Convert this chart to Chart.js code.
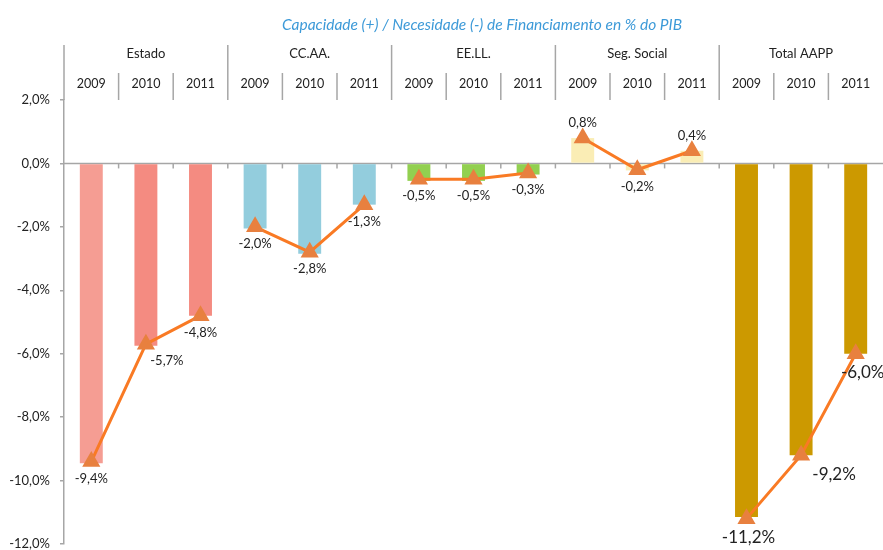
<!DOCTYPE html>
<html>
<head>
<meta charset="utf-8">
<script src="https://cdn.jsdelivr.net/npm/chart.js@4.4.1/dist/chart.umd.min.js"></script>
<style>
  html, body { margin: 0; padding: 0; background: #fff; }
  canvas { display: block; }
</style>
</head>
<body>
<canvas id="grafico" width="883" height="550"></canvas>
<script>
const titulo = 'Capacidade (+) / Necesidade (-) de Financiamento en % do PIB';
const grupos = ['Estado', 'CC.AA.', 'EE.LL.', 'Seg. Social', 'Total AAPP'];
const anos = ['2009', '2010', '2011'];
const ticksY = [2, 0, -2, -4, -6, -8, -10, -12];

const saldoBarras = [-9.45, -5.75, -4.8, -2.05, -2.85, -1.3, -0.55, -0.55, -0.35, 0.8, -0.22, 0.4, -11.15, -9.2, -6.0];
const saldoLinea = [-9.4, -5.7, -4.8, -2.0, -2.8, -1.3, -0.5, -0.5, -0.3, 0.8, -0.2, 0.4, -11.2, -9.2, -6.0];

const coresBarras = [
  '#F59D93', '#F48B81', '#F48B81',
  '#93CDDD', '#93CDDD', '#93CDDD',
  '#92D050', '#92D050', '#92D050',
  '#FAEDB5', '#FAEDB5', '#FAEDB5',
  '#CC9900', '#CC9900', '#CC9900'
];
const desprazEtiqueta = [0, 21, 0, 0, 0, 0, 0, 0, 0, 0, 0, 0, 2, 33, 7];

const etiquetas = [];
grupos.forEach(g => anos.forEach(a => etiquetas.push(g + ' ' + a)));

const fonte = 'Lato, "Open Sans", sans-serif';
const gris = '#a6a6a6';

function pct(v) {
  return v.toFixed(1).replace('.', ',') + '%';
}

const debuxoExtra = {
  id: 'debuxoExtra',
  beforeDatasetsDraw(chart) {
    const ctx = chart.ctx;
    const area = chart.chartArea;
    const y0 = chart.scales.y.getPixelForValue(0);
    ctx.save();
    ctx.strokeStyle = gris;
    ctx.lineWidth = 1.5;
    ctx.beginPath();
    ctx.moveTo(area.left, y0);
    ctx.lineTo(area.right, y0);
    ctx.stroke();
    ctx.restore();
  },
  afterDatasetsDraw(chart) {
    const ctx = chart.ctx;
    const area = chart.chartArea;
    const x = chart.scales.x;
    const y = chart.scales.y;
    const ancho = (area.right - area.left) / etiquetas.length;
    const y0 = y.getPixelForValue(0);
    const yTop = y.getPixelForValue(2);
    ctx.save();

    // titulo
    ctx.fillStyle = '#3D9AD8';
    ctx.font = 'italic 15.5px ' + fonte;
    ctx.textAlign = 'center';
    ctx.textBaseline = 'middle';
    ctx.fillText(titulo, 482, 25);

    // eixo vertical prolongado ata a cabeceira
    ctx.strokeStyle = gris;
    ctx.lineWidth = 1.5;
    ctx.beginPath();
    ctx.moveTo(area.left, 45);
    ctx.lineTo(area.left, yTop);
    ctx.stroke();

    // cabeceira de grupos e anos
    for (let i = 0; i < etiquetas.length; i++) {
      const xi = x.getPixelForValue(i);
      const borde = xi - ancho / 2;
      if (i > 0) {
        ctx.beginPath();
        ctx.moveTo(borde, i % 3 === 0 ? 45 : 73);
        ctx.lineTo(borde, yTop);
        ctx.stroke();
        // marcas sobre a liña do cero
        ctx.beginPath();
        ctx.moveTo(borde, y0);
        ctx.lineTo(borde, y0 + 5);
        ctx.stroke();
      }
      ctx.fillStyle = '#222';
      ctx.font = '12.5px ' + fonte;
      ctx.fillText(anos[i % 3], xi, 84);
      if (i % 3 === 1) {
        ctx.font = '13px ' + fonte;
        ctx.fillText(grupos[(i - 1) / 3], xi, 54);
      }
    }

    // etiquetas de datos
    const meta = chart.getDatasetMeta(1);
    meta.data.forEach((p, i) => {
      const v = saldoLinea[i];
      const grande = i >= 12;
      ctx.font = (grande ? '17px ' : '13px ') + fonte;
      ctx.fillStyle = '#222';
      const dy = v >= 0 ? -15 : (grande ? 19 : 17);
      ctx.fillText(pct(v), p.x + desprazEtiqueta[i], p.y + dy);
    });
    ctx.restore();
  }
};

new Chart(document.getElementById('grafico').getContext('2d'), {
  data: {
    labels: etiquetas,
    datasets: [{
      type: 'bar',
      data: saldoBarras,
      backgroundColor: coresBarras,
      barPercentage: 0.42,
      categoryPercentage: 1,
      order: 2
    }, {
      type: 'line',
      data: saldoLinea,
      borderColor: '#F97A24',
      borderWidth: 3,
      pointStyle: 'triangle',
      pointRadius: 7.5,
      pointBackgroundColor: '#E8803F',
      pointBorderColor: '#E8803F',
      tension: 0,
      clip: false,
      segment: {
        borderColor: c => (c.p0DataIndex % 3 === 2 ? 'rgba(0,0,0,0)' : '#F97A24')
      },
      order: 1
    }]
  },
  options: {
    responsive: false,
    animation: false,
    layout: { autoPadding: false, padding: { top: 100, bottom: 6, left: 0, right: 0 } },
    plugins: {
      legend: { display: false },
      tooltip: { enabled: false }
    },
    scales: {
      x: { display: false },
      y: {
        min: -12,
        max: 2,
        afterBuildTicks: s => { s.ticks = ticksY.map(v => ({ value: v })); },
        afterFit: s => {
          s.width = 64;
          s.paddingTop = 0;
          s.paddingBottom = 0;
        },
        ticks: {
          callback: v => pct(v),
          color: '#222',
          padding: 10,
          font: { family: fonte, size: 13 }
        },
        grid: { drawOnChartArea: false, drawTicks: true, tickLength: 4, color: gris, lineWidth: 1.5 },
        border: { color: gris, width: 1.5 }
      }
    }
  },
  plugins: [debuxoExtra]
});
</script>
</body>
</html>
